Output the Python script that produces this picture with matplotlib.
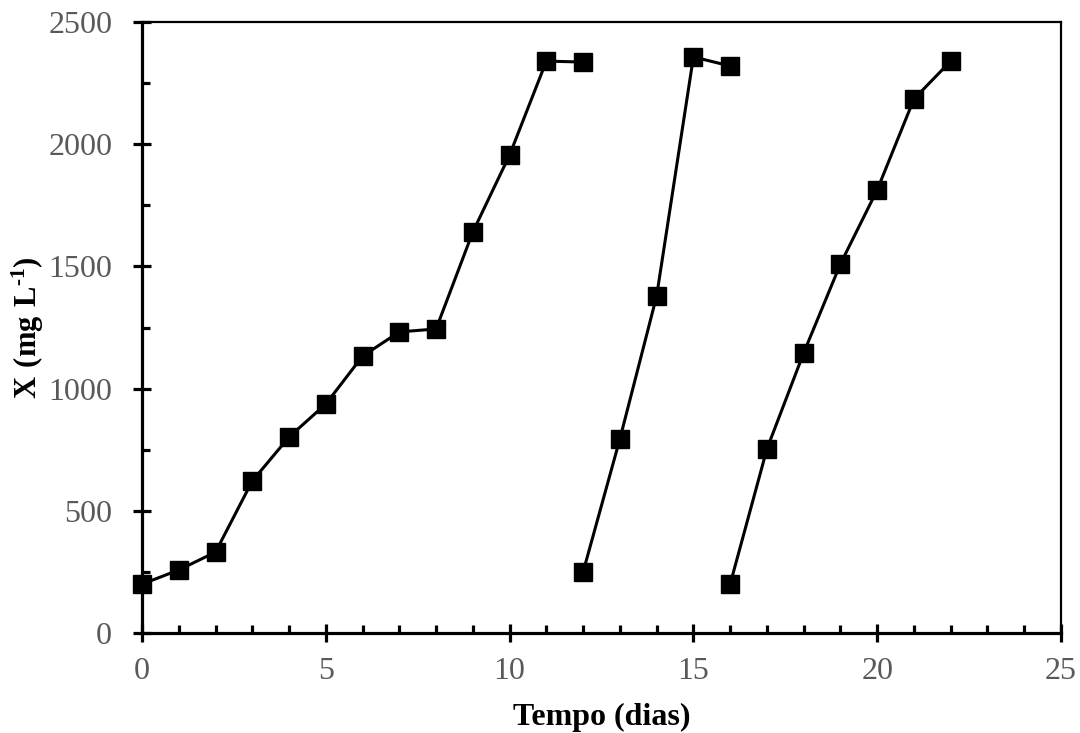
import matplotlib
matplotlib.use("Agg")
import matplotlib.pyplot as plt
from matplotlib.ticker import MultipleLocator

plt.rcParams['font.family'] = ['Liberation Serif', 'DejaVu Serif']
plt.rcParams['mathtext.fontset'] = 'custom'
plt.rcParams['mathtext.rm'] = 'Liberation Serif'
plt.rcParams['mathtext.bf'] = 'Liberation Serif:bold'

# Data
x1 = [0, 1, 2, 3, 4, 5, 6, 7, 8, 9, 10, 11, 12]
y1 = [200, 258, 331, 622, 802, 937, 1133, 1232, 1244, 1641, 1956, 2340, 2336]
x2 = [12, 13, 14, 15, 16]
y2 = [250, 794, 1379, 2357, 2320]
x3 = [16, 17, 18, 19, 20, 21, 22]
y3 = [200, 753, 1146, 1510, 1813, 2185, 2340]

fig = plt.figure(figsize=(10.8, 7.33), dpi=100)
ax = fig.add_axes([0.1315, 0.1364, 0.8509, 0.8336])

for xs, ys in [(x1, y1), (x2, y2), (x3, y3)]:
    ax.plot(xs, ys, color='black', lw=2.2, marker='s', markersize=13,
            markerfacecolor='black', markeredgecolor='black', clip_on=False, zorder=3)

ax.set_xlim(0, 25)
ax.set_ylim(0, 2500)
ax.xaxis.set_major_locator(MultipleLocator(5))
ax.xaxis.set_minor_locator(MultipleLocator(1))
ax.yaxis.set_major_locator(MultipleLocator(500))
ax.yaxis.set_minor_locator(MultipleLocator(250))

for side in ['left', 'bottom']:
    ax.spines[side].set_linewidth(2.3)
for side in ['top', 'right']:
    ax.spines[side].set_linewidth(1.6)

ax.tick_params(which='major', direction='inout', length=13, width=2.3,
               labelsize=23, labelcolor='#595959')
ax.tick_params(which='minor', direction='in', length=6, width=2.3)
ax.tick_params(axis='x', which='major', pad=11)
ax.tick_params(axis='y', which='major', pad=15)

ax.set_xlabel('Tempo (dias)', fontsize=23, fontweight='bold', labelpad=12)
ax.set_ylabel(r'$\mathbf{X\ (mg\ L^{\text{-}1})}$', fontsize=22)
ax.yaxis.set_label_coords(-0.104, 0.5)

fig.savefig('out.png', dpi=100)
